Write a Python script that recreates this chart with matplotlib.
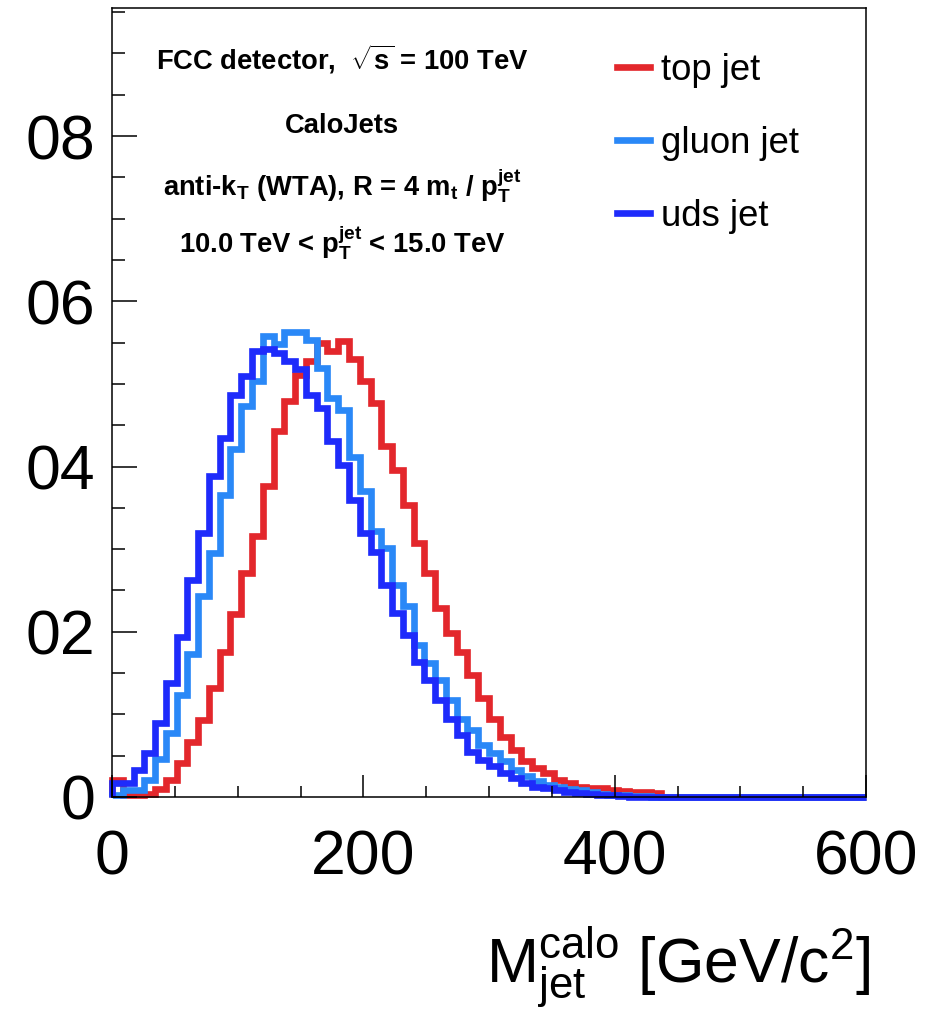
import numpy as np
import matplotlib
matplotlib.use('Agg')
import matplotlib.pyplot as plt
from matplotlib.lines import Line2D
from matplotlib.ticker import MultipleLocator, FixedLocator

plt.rcParams['font.family'] = ['Liberation Sans', 'DejaVu Sans']
plt.rcParams['mathtext.fontset'] = 'custom'
plt.rcParams['mathtext.rm'] = 'Liberation Sans'
plt.rcParams['mathtext.it'] = 'Liberation Sans:italic'
plt.rcParams['mathtext.bf'] = 'Liberation Sans:bold'

# jet mass binning, 70 bins from 0 to 600 GeV
bin_edges = np.linspace(0, 600, 71)

# normalised jet mass distributions
top_jet = [0.0020, 0.0002, 0.0002, 0.0004, 0.0010, 0.0020, 0.0041, 0.0066, 0.0093, 0.0132,
           0.0175, 0.0221, 0.0271, 0.0316, 0.0376, 0.0443, 0.0479, 0.0511, 0.0528, 0.0550,
           0.0540, 0.0552, 0.0530, 0.0503, 0.0477, 0.0425, 0.0396, 0.0354, 0.0307, 0.0271,
           0.0229, 0.0198, 0.0176, 0.0148, 0.0120, 0.0095, 0.0073, 0.0057, 0.0043, 0.0035,
           0.0029, 0.0021, 0.0017, 0.0012, 0.0011, 0.0011, 0.0009, 0.0007, 0.0006, 0.0006,
           0.0005] + [0.0] * 19
gluon_jet = [0.0002, 0.0008, 0.0009, 0.0021, 0.0046, 0.0078, 0.0124, 0.0173, 0.0243, 0.0295,
             0.0366, 0.0421, 0.0473, 0.0503, 0.0558, 0.0548, 0.0563, 0.0563, 0.0553, 0.0519,
             0.0483, 0.0469, 0.0412, 0.0370, 0.0322, 0.0301, 0.0257, 0.0231, 0.0184, 0.0162,
             0.0142, 0.0118, 0.0095, 0.0081, 0.0063, 0.0053, 0.0043, 0.0033, 0.0025, 0.0019,
             0.0015, 0.0012, 0.0010, 0.0008, 0.0006, 0.0004, 0.0003, 0.0002, 0.0001, 0.0001] + [0.0] * 20
uds_jet = [0.0017, 0.0017, 0.0033, 0.0053, 0.0089, 0.0138, 0.0194, 0.0263, 0.0320, 0.0388,
           0.0435, 0.0487, 0.0509, 0.0540, 0.0542, 0.0537, 0.0528, 0.0518, 0.0487, 0.0471,
           0.0431, 0.0402, 0.0360, 0.0320, 0.0297, 0.0257, 0.0223, 0.0196, 0.0164, 0.0142,
           0.0118, 0.0095, 0.0075, 0.0055, 0.0045, 0.0037, 0.0029, 0.0023, 0.0017, 0.0012,
           0.0011, 0.0008, 0.0006, 0.0005, 0.0004, 0.0002, 0.0002, 0.0001] + [0.0] * 22

series_names = ['top jet', 'gluon jet', 'uds jet']
series_colors = ['#e3272c', '#2a88f7', '#1e2bfb']

ytick_vals = [0.0, 0.02, 0.04, 0.06, 0.08]
ytick_labels = ['0', '02', '04', '06', '08']   # labels are cut off at the left edge in the original

info_lines = [
    r'FCC detector,  $\sqrt{\mathbf{s}}$ = 100 TeV',
    'CaloJets',
    r'anti-k$_{\mathbf{T}}$ (WTA), R = 4 m$_{\mathbf{t}}$ / p$_{\mathbf{T}}^{\mathbf{jet}}$',
    r'10.0 TeV < p$_{\mathbf{T}}^{\mathbf{jet}}$ < 15.0 TeV',
]

W, H = 934, 1015
fig = plt.figure(figsize=(W / 100, H / 100), dpi=100)
ax = fig.add_axes([112 / W, 1 - 797 / H, (866 - 112) / W, (797 - 8) / H])

lw = 4.8
for vals, col in zip([top_jet, gluon_jet, uds_jet], series_colors):
    ax.stairs(vals, bin_edges, color=col, linewidth=lw, baseline=0, clip_on=False)

ax.set_xlim(0, 600)
ax.set_ylim(0, 0.0955)

ax.xaxis.set_major_locator(MultipleLocator(200))
ax.xaxis.set_minor_locator(MultipleLocator(50))
ax.yaxis.set_major_locator(FixedLocator(ytick_vals))
ax.set_yticklabels(ytick_labels)
ax.yaxis.set_minor_locator(MultipleLocator(0.005))

ax.tick_params(which='both', direction='in', top=False, right=False, width=1.1)
ax.tick_params(axis='x', which='major', length=16, labelsize=45, pad=23)
ax.tick_params(axis='x', which='minor', length=8)
ax.tick_params(axis='y', which='major', length=18, labelsize=45, pad=12)
ax.tick_params(axis='y', which='minor', length=9)
for sp in ax.spines.values():
    sp.set_linewidth(1.1)

# legend
handles = [Line2D([], [], color=c, lw=lw) for c in series_colors]
ax.legend(handles, series_names, loc='upper left',
          bbox_to_anchor=(617 / W, 1 - 53 / H), bbox_transform=fig.transFigure,
          frameon=False, fontsize=26.3, handlelength=0.9, handletextpad=0.3,
          labelspacing=1.04, borderpad=0, borderaxespad=0)

# info text
baselines = [70, 133, 196, 252]
for txt, yb in zip(info_lines, baselines):
    fig.text(342 / W, 1 - yb / H, txt, ha='center', va='baseline',
             fontsize=19.7, fontweight='bold')

# x axis title
fig.text(870 / W, 1 - 983 / H, r'$\mathrm{M_{jet}^{calo}}$ [GeV/c$^{\mathrm{2}}$]',
         ha='right', va='baseline', fontsize=45)

fig.savefig('out.png', dpi=100)
